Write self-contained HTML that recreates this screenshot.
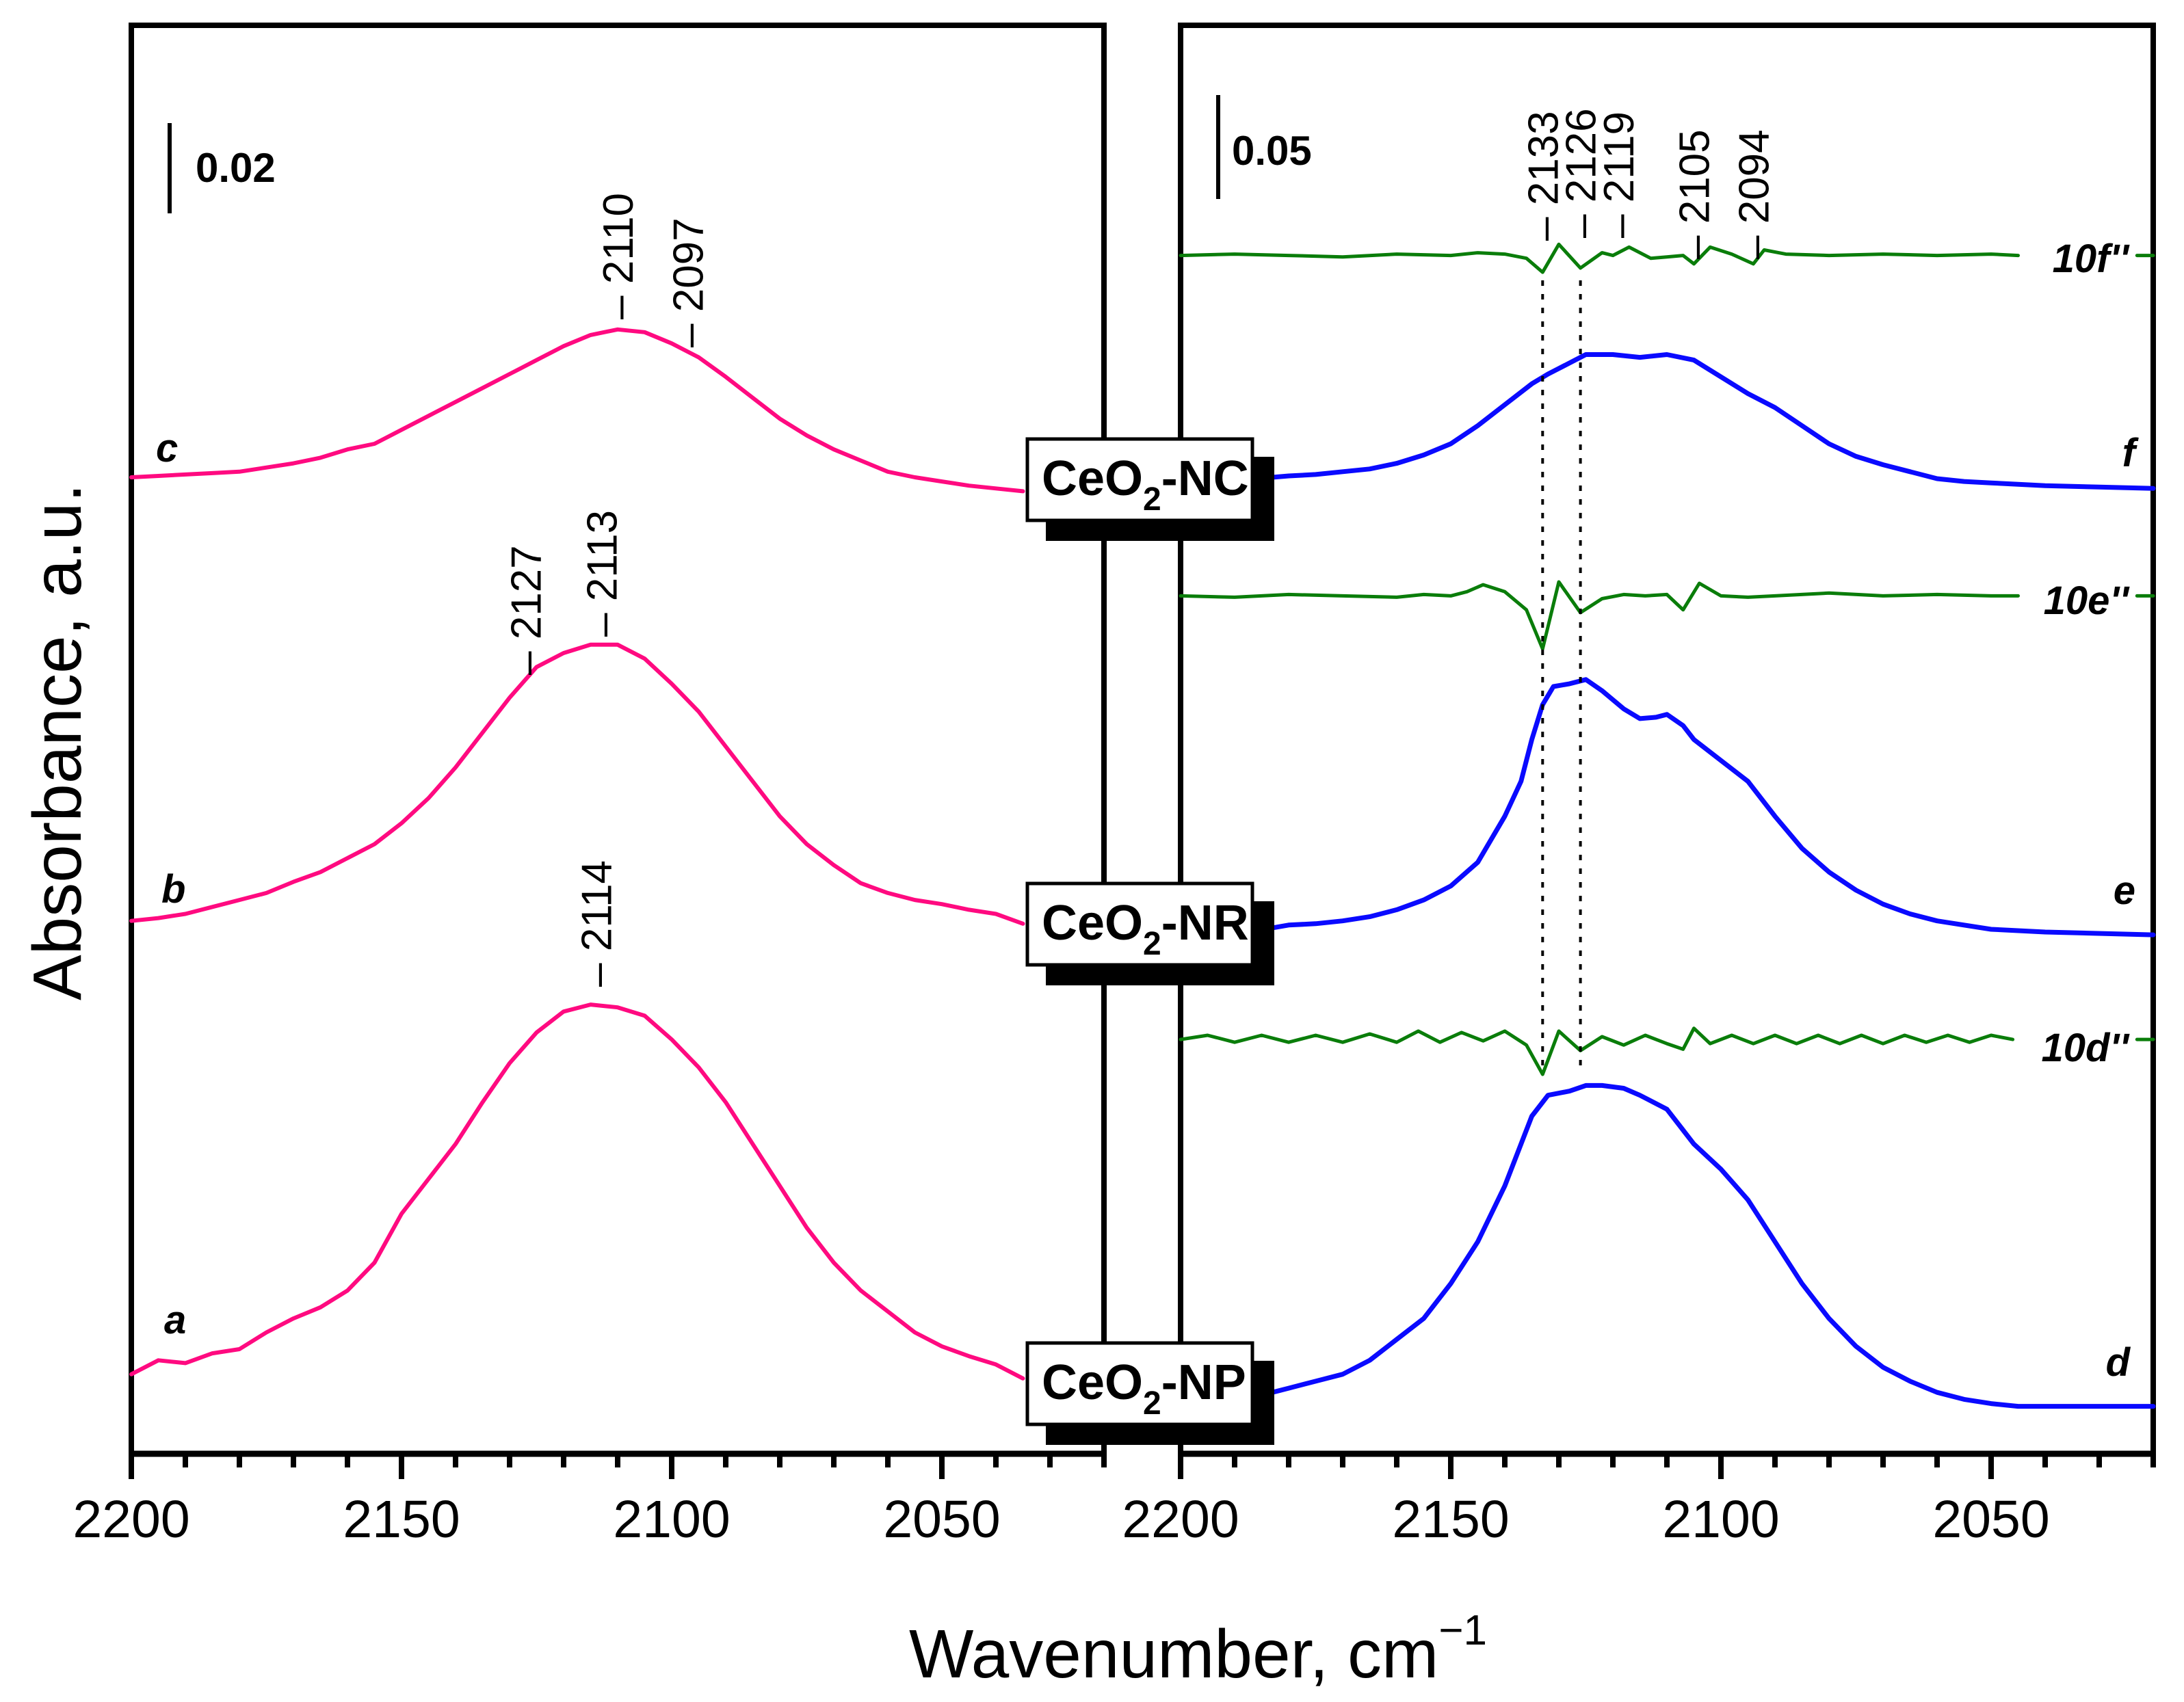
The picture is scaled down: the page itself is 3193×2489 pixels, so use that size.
<!DOCTYPE html>
<html><head><meta charset="utf-8"><style>
html,body{margin:0;padding:0;background:#fff}
svg{display:block}
text{font-family:"Liberation Sans",Arial,sans-serif}
</style></head><body>
<svg id="chart" width="3193" height="2489" viewBox="0 0 3193 2489" xmlns="http://www.w3.org/2000/svg"></svg>
<script>
// ---- data (wavenumber cm-1, absorbance a.u.) ----
const wnLeft = [2200,2195,2190,2185,2180,2175,2170,2165,2160,2155,2150,2145,2140,2135,2130,2125,2120,2115,2110,2105,2100,2095,2090,2085,2080,2075,2070,2065,2060,2055,2050,2045,2040,2035];
const curveA = [57,67,65,72,75,87,97,105,117,137,172,197,222,252,280,302,317,322,320,314,297,277,252,222,192,162,137,117,102,87,77,70,64,54];
const curveB = [382,384,387,392,397,402,410,417,427,437,452,470,492,517,542,564,574,580,580,570,552,532,507,482,457,437,422,409,402,397,394,390,387,380];
const curveC = [700,701,702,703,704,707,710,714,720,724,734,744,754,764,774,784,794,802,806,804,796,786,772,757,742,730,720,712,704,700,697,694,692,690];
const wnF = [2183,2180,2175,2170,2165,2160,2155,2150,2145,2140,2135,2132,2130,2127,2125,2120,2115,2110,2105,2100,2095,2090,2085,2080,2075,2070,2065,2060,2055,2050,2040,2030,2020];
const curveF = [700,701,702,704,706,710,716,724,737,752,767,774,778,784,788,788,786,788,784,772,760,750,737,724,715,709,704,699,697,696,694,693,692];
const wnE = [2183,2180,2175,2170,2165,2160,2155,2150,2145,2140,2137,2135,2133,2131,2128,2125,2122,2118,2115,2112,2110,2107,2105,2100,2095,2090,2085,2080,2075,2070,2065,2060,2050,2040,2020];
const curveE = [377,379,380,382,385,390,397,407,424,457,482,512,537,550,552,555,547,534,527,528,530,522,512,497,482,457,434,417,404,394,387,382,376,374,372];
const wnD = [2183,2180,2175,2170,2165,2160,2155,2150,2145,2140,2135,2132,2128,2125,2122,2118,2115,2110,2107,2105,2100,2095,2090,2085,2080,2075,2070,2065,2060,2055,2050,2045,2040,2030,2020];
const curveD = [44,47,52,57,67,82,97,122,152,192,242,257,260,264,264,262,257,247,232,222,204,182,152,122,97,77,62,52,44,39,36,34,34,34,34];
const wnF2 = [2200,2190,2180,2170,2160,2150,2145,2140,2136,2133,2130,2126,2122,2120,2117,2113,2110,2107,2105,2102,2098,2094,2092,2088,2080,2070,2060,2050,2045];
const devF2 = [0,1,0,-1,1,0,2,1,-2,-12,8,-9,2,0,6,-2,-1,0,-6,6,1,-6,4,1,0,1,0,1,0];
const baseF2 = 859;
const wnE2 = [2200,2190,2180,2170,2160,2155,2150,2147,2144,2140,2136,2133,2130,2126,2122,2118,2114,2110,2107,2104,2100,2095,2090,2080,2070,2060,2050,2045];
const devE2 = [0,-1,1,0,-1,1,0,3,8,3,-10,-38,10,-12,-2,1,0,1,-10,9,0,-1,0,2,0,1,0,0];
const baseE2 = 615;
const wnD2 = [2200,2195,2190,2185,2180,2175,2170,2165,2160,2156,2152,2148,2144,2140,2136,2133,2130,2126,2122,2118,2114,2110,2107,2105,2102,2098,2094,2090,2086,2082,2078,2074,2070,2066,2062,2058,2054,2050,2046];
const devD2 = [0,3,-2,3,-2,3,-2,4,-2,6,-2,5,-1,6,-4,-25,6,-8,2,-4,3,-3,-7,8,-3,3,-3,3,-3,3,-3,3,-3,3,-2,3,-2,3,0];
const baseD2 = 297;
const xTicks = [2200,2150,2100,2050];
const peaksLeft = [[2110,467],[2097,508],[2127,987],[2113,931],[2114,1443]];
const peaksRight = [[2133,352],[2126,348],[2119,348],[2105,379],[2094,379]];

// ---- scales ----
const L0=192, R0=1726, PX=7.9, W=1422, TOP=37, BOT=2126;
const xL = w => L0 + (2200-w)*PX;
const xR = w => R0 + (2200-w)*PX;
const yS = v => BOT - v*2.04;

const svg = document.getElementById('chart');
const NS='http://www.w3.org/2000/svg';
function mk(tag, attrs, parent){ const e=document.createElementNS(NS,tag); for(const k in attrs) e.setAttribute(k,attrs[k]); (parent||svg).appendChild(e); return e; }

for (const [x0,nm] of [[L0,'left-panel-frame'],[R0,'right-panel-frame']]) {
  const f = mk('rect',{x:x0,y:TOP,width:W,height:BOT-TOP,fill:'none',stroke:'#000','stroke-width':8});
  
  
  const ax = mk('line',{x1:x0-4,x2:x0+W+4,y1:BOT,y2:BOT,stroke:'#000','stroke-width':9});
  
  
  for (let w=2200; w>=2020; w-=10) {
    const x = x0 + (2200-w)*PX;
    const major = (w%50===0);
    const t = mk('line',{x1:x,x2:x,y1:BOT,y2:major?2163:2146,stroke:'#000','stroke-width':8});
    
    
  }
}
for (const [sc,nm] of [[xL,'left'],[xR,'right']]) {
  for (const w of xTicks) {
    const t = mk('text',{x:sc(w),y:2248,'font-size':77,'text-anchor':'middle',fill:'#000'});
    t.textContent = w;
    
    
  }
}

function path(xs, ys, sc, color, sw, name){
  let d='';
  for(let i=0;i<xs.length;i++) d+=(i?'L':'M')+sc(xs[i]).toFixed(1)+','+yS(ys[i]).toFixed(1);
  const p = mk('path',{d:d,fill:'none',stroke:color,'stroke-width':sw,'stroke-linejoin':'round','stroke-linecap':'round'});
  
  
}
path(wnLeft, curveA, xL, '#ff0a80', 6, 'curve-a');
path(wnLeft, curveB, xL, '#ff0a80', 6, 'curve-b');
path(wnLeft, curveC, xL, '#ff0a80', 6, 'curve-c');
path(wnF, curveF, xR, '#0a0aff', 7, 'curve-f');
path(wnE, curveE, xR, '#0a0aff', 7, 'curve-e');
path(wnD, curveD, xR, '#0a0aff', 7, 'curve-d');
path(wnF2, devF2.map(v=>v+baseF2), xR, '#0a7d0a', 5, 'curve-10f-second-derivative');
path([2023,2020], [baseF2,baseF2], xR, '#0a7d0a', 5, 'curve-10f-tail');
path(wnE2, devE2.map(v=>v+baseE2), xR, '#0a7d0a', 5, 'curve-10e-second-derivative');
path([2023,2020], [baseE2,baseE2], xR, '#0a7d0a', 5, 'curve-10e-tail');
path(wnD2, devD2.map(v=>v+baseD2), xR, '#0a7d0a', 5, 'curve-10d-second-derivative');
path([2023,2020], [baseD2,baseD2], xR, '#0a7d0a', 5, 'curve-10d-tail');

for (const w of [2133,2126]) {
  const l = mk('line',{x1:xR(w),x2:xR(w),y1:410,y2:1560,stroke:'#000','stroke-width':4,'stroke-dasharray':'8,12'});
  
  
}

function peak(sc, w, yb, nm){
  const x = sc(w);
  const t = mk('text',{x:0,y:0,'font-size':62,fill:'#000',transform:`translate(${x+22},${yb}) rotate(-90)`});
  t.textContent = '\u2013 '+w;
  
  
}
for (const [w,yb] of peaksLeft) peak(xL,w,yb,'peak-label-'+w);
for (const [w,yb] of peaksRight) peak(xR,w,yb,'peak-label-'+w);

function bar(x,y1,y2,lbl,tx,ty,nm){
  const l = mk('line',{x1:x,x2:x,y1:y1,y2:y2,stroke:'#000','stroke-width':6});
  
  
  const t = mk('text',{x:tx,y:ty,'font-size':60,'font-weight':'bold',fill:'#000'});
  t.textContent = lbl;
  
  
}
bar(248,180,312,'0.02',286,266,'scale-bar-0-02');
bar(1781,139,291,'0.05',1801,241,'scale-bar-0-05');

function lab(txt,x,y,nm,anchor){
  const t = mk('text',{x:x,y:y,'font-size':58,'font-weight':'bold','font-style':'italic',fill:'#000','text-anchor':anchor||'start'});
  t.textContent = txt;
  
  
}
lab('c',228,675,'label-c'); lab('b',236,1320,'label-b'); lab('a',240,1950,'label-a');
lab('f',3122,682,'label-f','end'); lab('e',3122,1322,'label-e','end'); lab('d',3114,2012,'label-d','end');
lab("10f''",3112,398,'label-10f','end'); lab("10e''",3112,898,'label-10e','end'); lab("10d''",3112,1552,'label-10d','end');

function box(y,name,txt){
  const g = mk('g',{});
  
  
  mk('rect',{x:1529,y:y+28,width:334,height:123,fill:'#000'},g);
  mk('rect',{x:1502,y:y+2,width:329,height:119,fill:'#fff',stroke:'#000','stroke-width':5},g);
  const t = mk('text',{x:1523,y:y+84,'font-size':72,'font-weight':'bold',fill:'#000'},g);
  t.innerHTML = 'CeO<tspan font-size="48" dy="22">2</tspan><tspan dy="-22">-'+txt+'</tspan>';
}
box(640,'box-ceo2-nc','NC');
box(1290,'box-ceo2-nr','NR');
box(1962,'box-ceo2-np','NP');

const xt = mk('text',{x:1329,y:2453,'font-size':100,fill:'#000'});
xt.innerHTML = 'Wavenumber, cm<tspan font-size="62" dy="-48">\u22121</tspan>';


const yt = mk('text',{x:0,y:0,'font-size':100,fill:'#000','text-anchor':'middle',transform:'translate(118,1085) rotate(-90)'});
yt.textContent = 'Absorbance, a.u.';


</script>
</body></html>
